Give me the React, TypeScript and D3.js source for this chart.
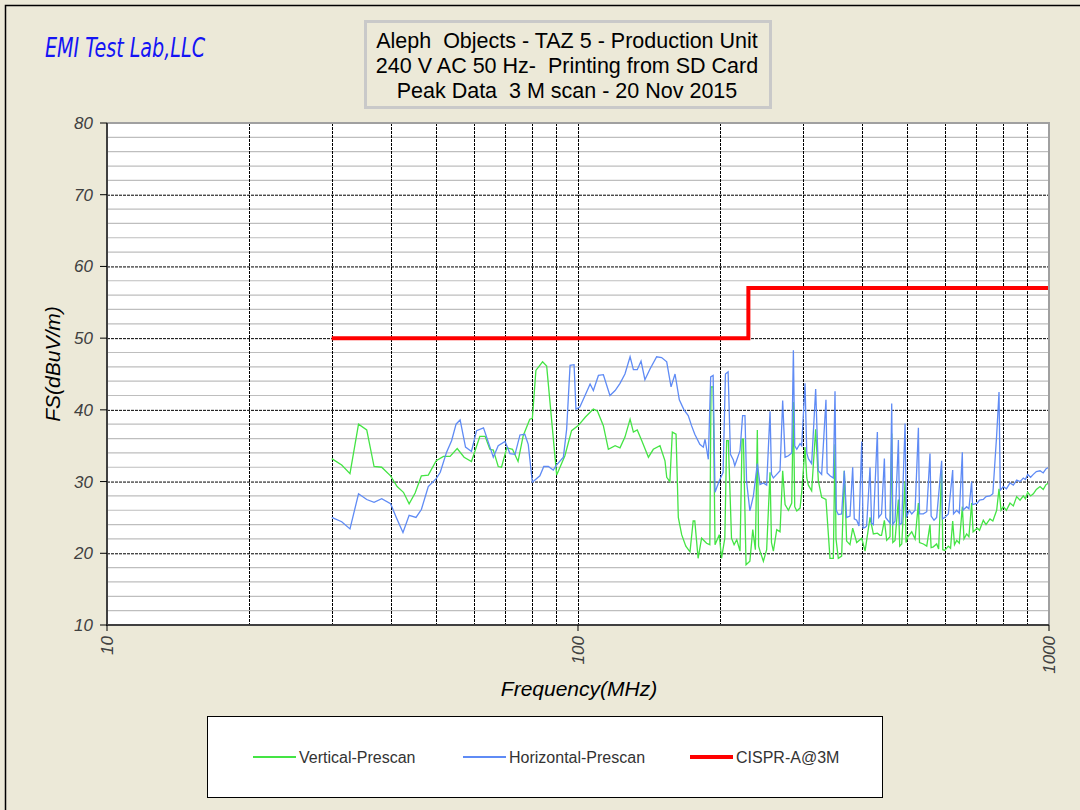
import React from 'react';
import * as d3 from 'd3';

// frequency (MHz), level (dBuV/m)
const verticalScan: [number, number][] = [
  [30, 33.2], [31.5, 32.3], [32.8, 31.1], [34.2, 38.0], [35.6, 37.2], [36.9, 32.1], [38.3, 32.0], [40, 30.8],
  [41.3, 29.3], [42.6, 28.5], [43.8, 26.9], [45.1, 28.4], [46.5, 30.8], [48.1, 30.9], [50, 32.9], [51.8, 33.5],
  [53.5, 33.5], [55.4, 34.6], [57.3, 33.4], [59.4, 32.8], [61.9, 36.3], [63.5, 36.3], [65, 34.5], [66.1, 34.4],
  [67.7, 32.1], [68.8, 32.0], [70.6, 34.7], [72.6, 34.5], [74.6, 32.8], [76.5, 36.4], [79, 38.7], [80, 38.8],
  [81.4, 45.5], [84.1, 46.7], [85.8, 46.1], [90.1, 30.9], [93.8, 33.6], [96.9, 37.1], [100.1, 37.8], [103.7, 39.0],
  [107.8, 40.1], [110, 39.8], [113.2, 37.8], [116, 34.5], [119.9, 35.0], [122.8, 34.7], [125.8, 36.2], [129, 38.7],
  [131.1, 36.9], [133.6, 37.2], [136.6, 35.7], [141.1, 33.4], [144.5, 34.5], [149.3, 35.0], [153, 32.9], [154.3, 30.6],
  [156.7, 30.0], [158.6, 36.9], [161.5, 36.6], [163.3, 25.0], [166, 22.6], [169.4, 21.0], [172.9, 20.2], [175.6, 24.5],
  [177, 24.5], [179.9, 19.3], [183, 22.1], [187.5, 21.4], [190.5, 21.2], [191.6, 43.2], [193.6, 43.2], [195.4, 21.2],
  [199.5, 22.6], [201.7, 19.3], [205, 22.1], [206.8, 35.7], [208.5, 35.7], [211.8, 22.1], [214.5, 21.2], [217.3, 21.9],
  [220.8, 20.3], [223, 35.9], [224.5, 35.9], [227.4, 18.4], [231.7, 18.9], [235, 23.3], [238, 20.5], [240.3, 37.2],
  [241.8, 21.0], [243.5, 20.3], [247.5, 18.9], [251.5, 20.5], [255.7, 31.3], [257.5, 21.5], [259.9, 20.3], [264.2, 23.3],
  [268.5, 23.0], [272, 31.5], [275.2, 26.8], [279.7, 26.0], [284.3, 27.0], [286.6, 41.1], [288.5, 26.5], [291.4, 25.9],
  [296.1, 26.3], [298.5, 28.5], [303.4, 34.8], [306, 30.5], [308.4, 29.5], [313.4, 28.7], [319.6, 37.3], [323.8, 30.1],
  [329.1, 27.8], [336.1, 27.5], [342.8, 19.3], [348.4, 19.3], [351.3, 35.2], [353, 22.0], [357, 19.3], [362.9, 19.6],
  [367.6, 31.5], [371.8, 21.7], [378, 21.2], [383, 23.5], [390.6, 21.5], [400.3, 22.1], [406.9, 20.3], [416.9, 25.0],
  [423.7, 22.7], [432.1, 22.8], [437.8, 22.5], [441, 22.5], [447.2, 24.6], [452.3, 21.8], [459.7, 22.3], [463.5, 36.7],
  [466, 21.5], [471.1, 21.8], [478.9, 27.5], [482, 21.0], [486.8, 21.3], [494.8, 30.0], [497, 21.5], [501.3, 22.3],
  [511.2, 23.0], [519.6, 22.0], [528.1, 27.0], [531, 21.5], [541.1, 21.3], [550.1, 21.0], [558.9, 24.0], [562, 20.8],
  [568.1, 20.9], [577.4, 21.3], [583, 20.6], [591.7, 31.6], [595, 20.5], [600.5, 20.4], [611.4, 21.0], [618, 20.7],
  [624.5, 24.5], [630, 21.2], [636.8, 21.8], [645, 21.4], [654.6, 26.5], [660, 22.0], [668.6, 22.7], [676, 22.3],
  [685.1, 27.0], [690, 23.0], [704.2, 23.5], [712, 23.2], [725.3, 24.6], [735, 24.0], [749.3, 24.8], [760, 24.5],
  [774.3, 26.0], [783.2, 29.0], [791, 26.0], [799.9, 26.5], [812, 26.0], [826.5, 27.0], [840, 26.6], [853.8, 27.9],
  [868, 27.4], [882.1, 28.0], [891, 27.6], [901, 28.5], [914, 28.0], [926.3, 28.3], [940, 28.9], [957.2, 29.3],
  [972, 28.9], [986, 29.6], [1000, 29.8],
];

const horizontalScan: [number, number][] = [
  [30, 25.0], [31.5, 24.4], [32.8, 23.4], [34.2, 28.3], [35.6, 27.5], [36.9, 27.1], [38.3, 27.6], [40, 26.9],
  [41.2, 24.9], [42.5, 22.9], [43.8, 25.3], [45.3, 25.0], [46.5, 26.1], [48.1, 29.3], [50, 30.4], [51, 31.3],
  [52.6, 34.1], [53.9, 35.7], [55.1, 38.0], [56.2, 38.6], [57.7, 34.8], [59.4, 34.2], [60.9, 37.1], [63, 37.5],
  [64.5, 35.5], [66.1, 33.4], [67.7, 35.0], [70, 35.6], [71.7, 33.9], [73.5, 33.8], [75.3, 36.5], [77.1, 36.6],
  [78.4, 35.2], [80, 29.9], [83, 30.8], [84.6, 32.1], [86.5, 32.1], [88.6, 31.6], [90, 32.3], [93.1, 33.4],
  [94.6, 37.3], [96.2, 46.2], [98.1, 46.3], [99, 40.1], [100.9, 40.4], [103.5, 42.0], [106.1, 43.6], [107.8, 42.7],
  [110.5, 44.8], [113.2, 44.9], [116.9, 42.0], [119.9, 42.7], [122.8, 43.7], [125.8, 45.0], [129, 47.4], [131.1, 45.6],
  [133.6, 45.6], [136.1, 46.8], [138.7, 44.2], [142.2, 45.7], [146.9, 47.4], [150.5, 47.3], [154.3, 46.7], [157.6, 43.2],
  [160.7, 45.0], [164.1, 41.4], [167.9, 40.0], [171.4, 39.2], [174.2, 37.8], [177, 36.6], [181.4, 35.2], [184.5, 34.8],
  [186.1, 35.9], [189.1, 33.1], [191.3, 44.6], [193.6, 44.8], [195.4, 28.5], [199.5, 30.1], [203.3, 31.3], [205.6, 45.0],
  [208.3, 45.3], [210.7, 33.8], [213.7, 33.0], [215.2, 32.2], [220.8, 34.3], [223.6, 39.2], [226.2, 39.2], [228, 30.0],
  [231.7, 25.9], [235.7, 28.0], [240.3, 32.5], [243.5, 29.6], [247.5, 29.8], [251.5, 29.5], [255.7, 39.8], [257.5, 31.0],
  [259.9, 30.5], [264.2, 31.0], [268.5, 31.5], [272, 41.3], [275.2, 33.4], [279.7, 33.6], [284.3, 34.0], [286.6, 48.3],
  [288.5, 35.0], [291.4, 34.5], [296.1, 35.3], [298.5, 35.0], [303.4, 43.7], [306, 34.0], [308.4, 33.2], [313.4, 32.5],
  [319.6, 42.9], [323.8, 31.5], [329.1, 31.0], [336.1, 41.4], [338, 31.2], [342.8, 30.8], [348.4, 30.5], [351.3, 42.6],
  [353.5, 26.0], [357, 25.4], [362.9, 25.5], [367.6, 31.5], [371.8, 25.0], [378, 25.2], [383, 32.0], [386, 24.8],
  [390.6, 24.6], [395, 23.8], [400.3, 35.6], [403, 23.5], [406.9, 23.6], [410, 23.8], [416.9, 32.0], [420, 24.2],
  [423.7, 24.0], [432.1, 36.9], [435, 25.0], [441, 25.5], [447.2, 33.2], [450, 25.0], [459.7, 24.2], [463.5, 40.9],
  [466, 24.0], [471.1, 24.5], [478.9, 35.8], [482, 24.0], [486.8, 24.2], [494.8, 38.1], [498, 25.0], [505, 26.0],
  [511.2, 25.5], [519.6, 26.0], [528.1, 37.5], [531, 25.5], [541.1, 25.5], [550.1, 25.8], [558.9, 33.9], [562, 25.2],
  [570, 24.6], [577.4, 25.0], [591.7, 32.9], [594, 24.8], [600.5, 25.0], [611.4, 25.5], [624.5, 31.6], [627, 25.5],
  [636.8, 26.0], [645, 25.6], [654.6, 34.1], [657, 26.0], [668.6, 26.5], [676, 26.2], [685.1, 30.0], [688, 26.8],
  [704.2, 27.0], [712, 27.4], [725.3, 27.5], [735, 27.9], [749.3, 28.0], [760, 28.3], [774.3, 36.5], [783.2, 42.5],
  [788, 28.8], [799.9, 29.3], [812, 29.0], [826.5, 29.8], [840, 29.5], [853.8, 30.2], [868, 30.0], [882.1, 30.5],
  [891, 30.3], [901, 31.0], [914, 30.6], [926.3, 31.0], [940, 31.4], [957.2, 31.5], [972, 31.2], [986, 31.8],
  [1000, 32.0],
];

const limitLine: [number, number][] = [[30, 50], [230, 50], [230, 57], [1000, 57]];

const yTicks = [10, 20, 30, 40, 50, 60, 70, 80];
const yMinor = [12, 14, 16, 18, 22, 24, 26, 28, 32, 34, 36, 38, 42, 44, 46, 48, 52, 54, 56, 58, 62, 64, 66, 68, 72, 74, 76, 78];
const xTickLabels = [10, 100, 1000];
const xGrid = [20, 30, 40, 50, 60, 70, 80, 90, 100, 200, 300, 400, 500, 600, 700, 800, 900];

const titleLines = [
  'Aleph  Objects - TAZ 5 - Production Unit',
  '240 V AC 50 Hz-  Printing from SD Card',
  'Peak Data  3 M scan - 20 Nov 2015',
];

const legendItems = [
  { name: 'Vertical-Prescan', color: '#44E444', width: 2 },
  { name: 'Horizontal-Prescan', color: '#5F8BF5', width: 2 },
  { name: 'CISPR-A@3M', color: '#FF0000', width: 4 },
];

const W = 1080;
const H = 810;
const plot = { left: 107, right: 1049, top: 123, bottom: 625 };

export default function App() {
  const x = d3.scaleLog().domain([10, 1000]).range([plot.left, plot.right]);
  const y = d3.scaleLinear().domain([10, 80]).range([plot.bottom, plot.top]);
  const line = d3.line<[number, number]>().x(d => x(d[0])).y(d => y(d[1]));

  const font = '"Liberation Sans", Arial, sans-serif';
  const legendX = [253, 463, 690];

  return (
    <>
      <style>{`body{margin:0}`}</style>
      <svg width={W} height={H} style={{ display: 'block', fontFamily: font }}>
        <rect x={0} y={0} width={W} height={H} fill="#ECE9D8" />
        <path d="M5.5,810 V5.5 H1080" fill="none" stroke="#000" strokeWidth={1.5} />

        {/* logo */}
        <text x={45} y={57} fill="#1414F5" fontSize={26} fontStyle="italic"
          fontFamily='"DejaVu Sans Condensed", "DejaVu Sans", sans-serif' textLength={160} lengthAdjust="spacingAndGlyphs">
          EMI Test Lab,LLC
        </text>

        {/* title box */}
        <rect x={365.5} y={21.5} width={405} height={86} fill="#ECE9D8" stroke="#C9C9C9" strokeWidth={3} />
        {titleLines.map((t, i) => (
          <text key={i} x={567} y={48 + i * 25} textAnchor="middle" fontSize={21.5} fill="#000"
            style={{ whiteSpace: 'pre' }}>{t}</text>
        ))}

        {/* plot area */}
        <rect x={plot.left} y={plot.top} width={plot.right - plot.left} height={plot.bottom - plot.top} fill="#fff" />
        {yMinor.map(v => (
          <line key={'m' + v} x1={plot.left} x2={plot.right} y1={y(v)} y2={y(v)} stroke="#BEBEBE" strokeWidth={1.2} />
        ))}
        {yTicks.slice(1, -1).map(v => (
          <line key={'g' + v} x1={plot.left} x2={plot.right} y1={y(v) + 0.5} y2={y(v) + 0.5} stroke="#000"
            strokeWidth={1} strokeDasharray="3,1" />
        ))}
        {xGrid.map(v => (
          <line key={'x' + v} x1={Math.round(x(v)) + 0.5} x2={Math.round(x(v)) + 0.5} y1={plot.top} y2={plot.bottom}
            stroke="#000" strokeWidth={1} strokeDasharray="3,1" />
        ))}

        {/* series */}
        <path d={line(verticalScan) ?? ''} fill="none" stroke="#44E444" strokeWidth={1.3} />
        <path d={line(horizontalScan) ?? ''} fill="none" stroke="#5F8BF5" strokeWidth={1.3} />
        <path d={line(limitLine) ?? ''} fill="none" stroke="#FF0000" strokeWidth={4} />

        {/* frame */}
        <path d={`M${plot.left},${plot.top} H${plot.right} V${plot.bottom}`} fill="none" stroke="#A0A0A0" strokeWidth={2} />
        <path d={`M${plot.left},${plot.top} V${plot.bottom} H${plot.right}`} fill="none" stroke="#404040" strokeWidth={2} />

        {/* y axis */}
        {yTicks.map(v => (
          <g key={'yt' + v}>
            <line x1={plot.left - 7} x2={plot.left} y1={y(v)} y2={y(v)} stroke="#000" />
            <text x={93} y={y(v) + 6} textAnchor="end" fontSize={17} fontStyle="italic" fill="#404040">{v}</text>
          </g>
        ))}
        <text transform={`translate(60,364) rotate(-90)`} textAnchor="middle"
          fontSize={21} fontStyle="italic" fill="#000">FS(dBuV/m)</text>

        {/* x axis */}
        {xTickLabels.map(v => (
          <g key={'xt' + v}>
            <line x1={x(v)} x2={x(v)} y1={plot.bottom} y2={plot.bottom + 6} stroke="#000" />
            <text transform={`translate(${x(v) + 6},${plot.bottom + 11}) rotate(-90)`} textAnchor="end"
              fontSize={17} fontStyle="italic" fill="#404040">{v}</text>
          </g>
        ))}
        <text x={579} y={696} textAnchor="middle" fontSize={21} fontStyle="italic" fill="#000">Frequency(MHz)</text>

        {/* legend */}
        <rect x={207.5} y={716.5} width={675} height={81} fill="#fff" stroke="#000" strokeWidth={1} />
        {legendItems.map((it, i) => (
          <g key={it.name}>
            <line x1={legendX[i]} x2={legendX[i] + 43} y1={757} y2={757} stroke={it.color} strokeWidth={it.width} />
            <text x={legendX[i] + 46} y={763} fontSize={16} fill="#333">{it.name}</text>
          </g>
        ))}
      </svg>
    </>
  );
}
